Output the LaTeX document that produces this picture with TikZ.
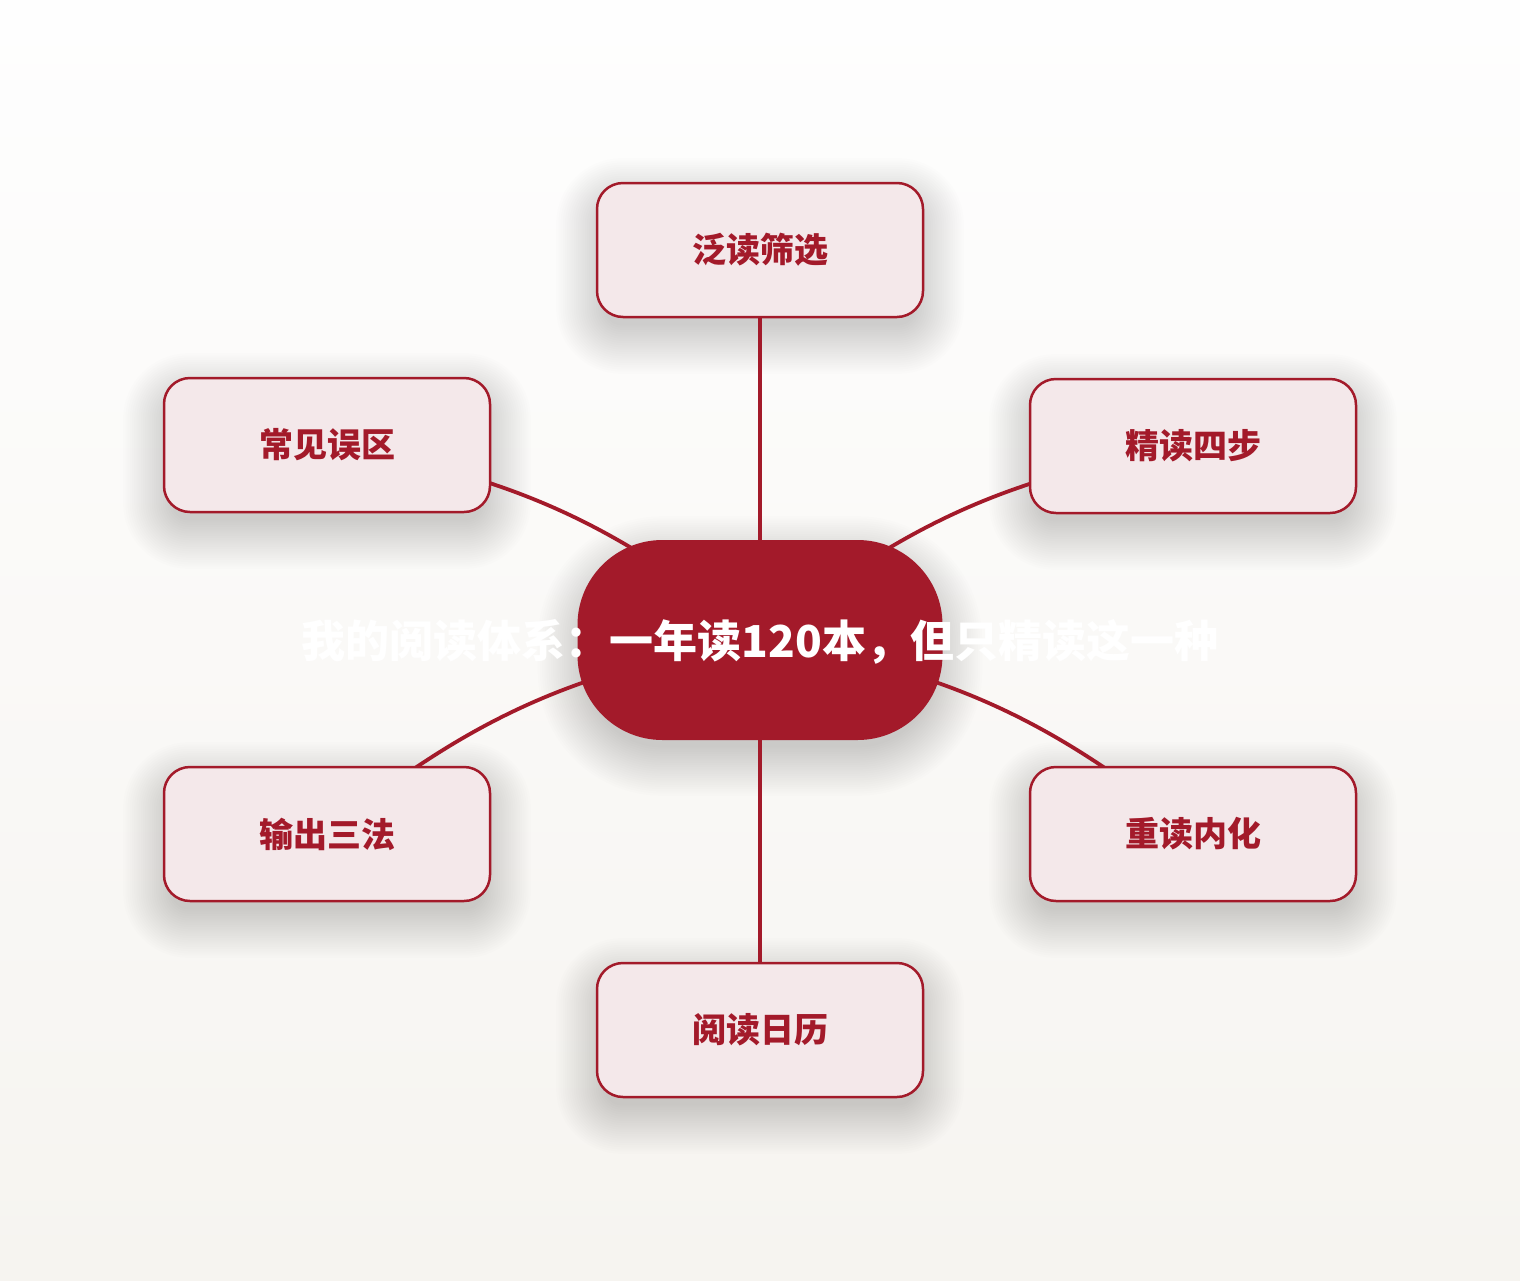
\documentclass[tikz,border=0pt]{standalone}
\usepackage{fontspec}
\setmainfont{Noto Sans CJK SC}
\usetikzlibrary{calc}
\definecolor{mred}{HTML}{A31A2A}
\definecolor{mfill}{HTML}{F4E8EA}
\definecolor{bgtop}{HTML}{FEFEFE}
\definecolor{bgbot}{HTML}{F6F4F0}
\pgfdeclarelayer{bglayer}
\pgfdeclarelayer{shadowlayer}
\pgfdeclarelayer{linklayer}
\pgfsetlayers{bglayer,shadowlayer,linklayer,main}
\tikzset{
  topic/.style={draw=mred, line width=2.5pt, fill=mfill, rounded corners=26pt,
    minimum width=326pt, minimum height=134pt, inner sep=0pt,
    text=mred, font=\fontsize{34}{40}\selectfont\bfseries},
  hub/.style={fill=mred, rounded corners=85pt, minimum width=365pt, minimum height=200pt, inner sep=0pt},
  hubtext/.style={text=white, font=\fontsize{44}{50}\selectfont\bfseries, inner sep=0pt},
  link/.style={draw=mred, line width=3.8pt, line cap=round},
  softshade/.style={fill=black, fill opacity=0.0075},
}
% #1 node name, #2 base corner radius (pt)
\newcommand\mysoftshadow[2]{%
  \foreach \i in {-4,...,18}{%
    \fill[softshade, rounded corners={max(#2+2.2*\i pt,4pt)}]
      ([xshift={-2.2*\i pt}, yshift={-16pt-2.2*\i pt}]#1.south west) rectangle
      ([xshift={2.2*\i pt}, yshift={-16pt+2.2*\i pt}]#1.north east);
  }%
}
\begin{document}
\begin{tikzpicture}[x=1pt,y=-1pt]
\useasboundingbox (0,0) rectangle (1520,1280);
\begin{pgfonlayer}{bglayer}
\shade[top color=bgtop, bottom color=bgbot] (0,0) rectangle (1520,1280);
\end{pgfonlayer}
\node[hub] (c) at (760,640) {};
\node[hubtext] (ct) at (760,642) {我的阅读体系：一年读120本，但只精读这一种};
\node[topic] (t) at (760,250) {泛读筛选};
\node[topic] (lt) at (327,445) {常见误区};
\node[topic] (rt) at (1193,446) {精读四步};
\node[topic] (lb) at (327,834) {输出三法};
\node[topic] (rb) at (1193,834) {重读内化};
\node[topic] (b) at (760,1030) {阅读日历};
\begin{pgfonlayer}{shadowlayer}
\mysoftshadow{c}{85pt}
\mysoftshadow{t}{26pt}
\mysoftshadow{lt}{26pt}
\mysoftshadow{rt}{26pt}
\mysoftshadow{lb}{26pt}
\mysoftshadow{rb}{26pt}
\mysoftshadow{b}{26pt}
\end{pgfonlayer}
\begin{pgfonlayer}{linklayer}
\draw[link] (c.center) -- (t.center);
\draw[link] (c.center) -- (b.center);
\draw[link] (c.center) to[bend right=15] (lt.center);
\draw[link] (c.center) to[bend left=15] (rt.center);
\draw[link] (c.center) to[bend right=15] (lb.center);
\draw[link] (c.center) to[bend left=15] (rb.center);
\end{pgfonlayer}
\end{tikzpicture}
\end{document}
